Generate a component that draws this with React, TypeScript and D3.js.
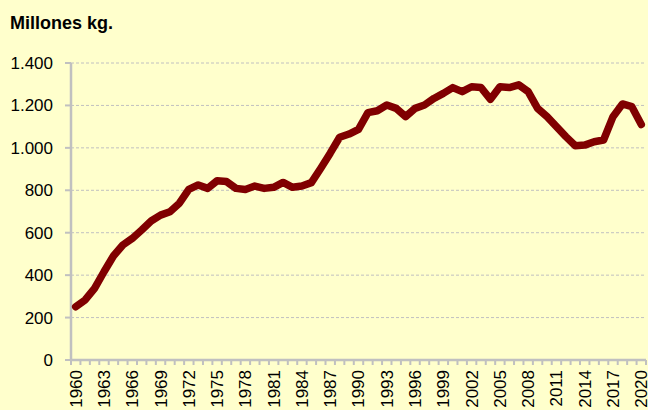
import React from 'react';
import * as d3 from 'd3';

// Years 1960..2020
const years: number[] = [
  1960, 1961, 1962, 1963, 1964, 1965, 1966, 1967, 1968, 1969,
  1970, 1971, 1972, 1973, 1974, 1975, 1976, 1977, 1978, 1979,
  1980, 1981, 1982, 1983, 1984, 1985, 1986, 1987, 1988, 1989,
  1990, 1991, 1992, 1993, 1994, 1995, 1996, 1997, 1998, 1999,
  2000, 2001, 2002, 2003, 2004, 2005, 2006, 2007, 2008, 2009,
  2010, 2011, 2012, 2013, 2014, 2015, 2016, 2017, 2018, 2019,
  2020,
];

// Millones kg.
const values: number[] = [
  251, 283, 338, 416, 490, 542, 573, 613, 655, 683,
  699, 739, 804, 825, 809, 845, 841, 809, 804, 820,
  809, 814, 837, 814, 820, 836, 904, 975, 1050, 1065,
  1087, 1166, 1175, 1202, 1186, 1147, 1186, 1202, 1233, 1257,
  1284, 1265, 1288, 1284, 1229, 1288, 1284, 1297, 1265, 1186,
  1147, 1100, 1053, 1010, 1013, 1029, 1037, 1147, 1207, 1194,
  1110,
];

const yTicks: number[] = [0, 200, 400, 600, 800, 1000, 1200, 1400];
const labelYears: number[] = years.filter((_, i) => i % 3 === 0);

const W = 648;
const H = 410;
const margin = { top: 63, right: 2, bottom: 50, left: 71 };

// Spanish thousands separator
const fmt = (v: number) => (v >= 1000 ? `${Math.floor(v / 1000)}.${String(v % 1000).padStart(3, '0')}` : `${v}`);

export default function App() {
  const x = d3.scaleBand<number>()
    .domain(years)
    .range([margin.left, W - margin.right])
    .padding(0);

  const y = d3.scaleLinear()
    .domain([0, 1400])
    .range([H - margin.bottom, margin.top]);

  const cx = (yr: number) => (x(yr) || 0) + x.bandwidth() / 2;

  const line = d3.line<number>()
    .x((_, i) => cx(years[i]))
    .y(d => y(d));

  const axisColor = '#c0c0c0';
  const baseY = y(0);
  const boundaries = years.map(yr => x(yr) || 0).concat([W - margin.right]);

  return (
    <svg width={W} height={H} style={{ position: 'absolute', left: 0, top: 0, background: '#ffffcc' }}
      fontFamily="'Liberation Sans', Arial, sans-serif">
      <rect x={0} y={0} width={W} height={H} fill="#ffffcc" />
      <text x={10} y={29} fontSize={18} fontWeight="bold" fill="#000">Millones kg.</text>

      {/* gridlines */}
      {yTicks.filter(t => t > 0).map(t => (
        <line key={`g${t}`} x1={margin.left} x2={W - margin.right} y1={y(t)} y2={y(t)}
          stroke="#c0c0c0" strokeWidth={1} strokeDasharray="3,2" />
      ))}

      {/* y axis */}
      <line x1={margin.left} x2={margin.left} y1={margin.top} y2={baseY} stroke={axisColor} strokeWidth={2.5} />
      {yTicks.map(t => (
        <g key={`y${t}`}>
          <line x1={margin.left - 6} x2={margin.left} y1={y(t)} y2={y(t)} stroke={axisColor} strokeWidth={2} />
          <text x={53} y={y(t)} dy="0.35em" textAnchor="end" fontSize={17} fill="#000">{fmt(t)}</text>
        </g>
      ))}

      {/* x axis */}
      <line x1={margin.left} x2={W - margin.right} y1={baseY} y2={baseY} stroke={axisColor} strokeWidth={2.5} />
      {boundaries.map((bx, i) => (
        <line key={`xt${i}`} x1={bx} x2={bx} y1={baseY} y2={baseY + 5} stroke={axisColor} strokeWidth={2} />
      ))}
      {labelYears.map(yr => (
        <text key={`xl${yr}`} transform={`translate(${cx(yr)},${baseY + 10}) rotate(-90)`}
          dy="0.35em" textAnchor="end" fontSize={17} fill="#000">{yr}</text>
      ))}

      {/* data line */}
      <path d={line(values) || ''} fill="none" stroke="#800000" strokeWidth={7.5}
        strokeLinejoin="round" strokeLinecap="round" />
    </svg>
  );
}
